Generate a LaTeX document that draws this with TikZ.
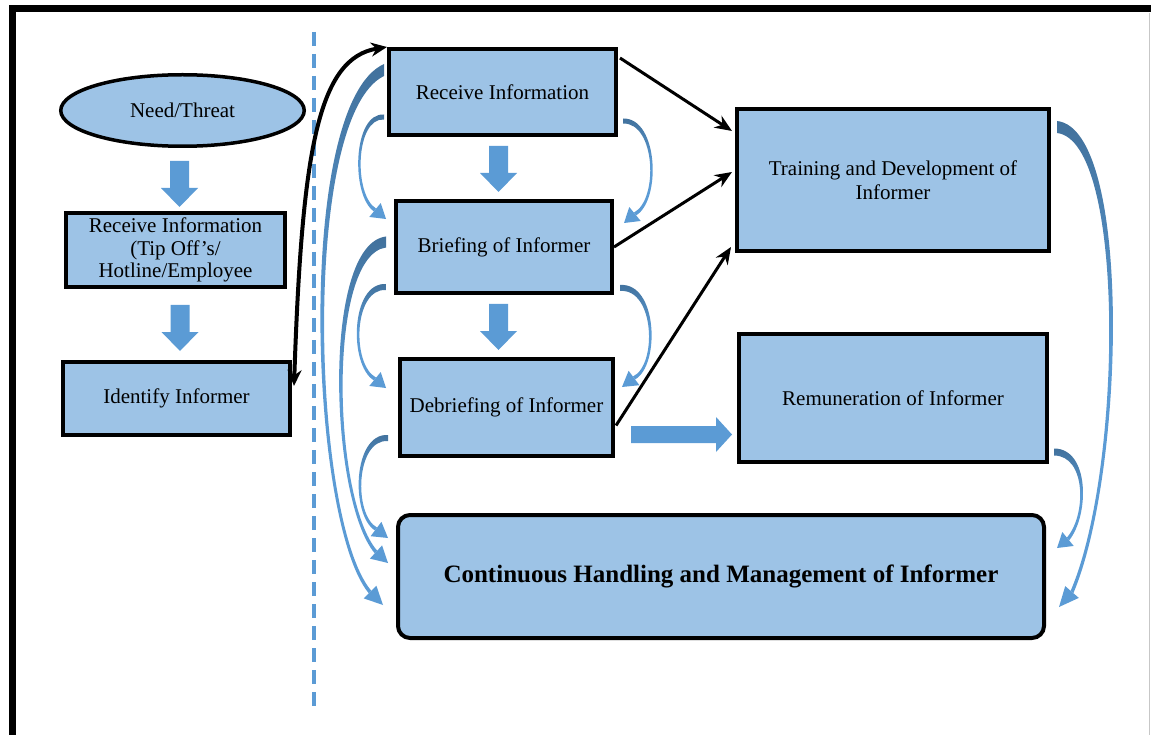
\documentclass[tikz,border=0pt]{standalone}
\usepackage{fontspec}
\setmainfont{Liberation Serif}
\usetikzlibrary{arrows.meta,calc,shapes.geometric}
\definecolor{boxfill}{HTML}{9DC3E6}
\definecolor{blockblue}{HTML}{5B9BD5}
\definecolor{banddark}{HTML}{41719C}
\tikzset{
  box/.style={draw=black, fill=boxfill, line width=4pt, inner sep=0pt, align=center,
    font=\fontsize{21}{22.5}\selectfont},
  link/.style={draw=black, line width=3pt, -{Stealth[length=17pt,width=14pt]}},
  blockarrow/.style={fill=blockblue},
  bandshade/.style={top color=banddark, bottom color=blockblue, middle color=blockblue},
}
% tapered curved arrow
% #1 start, #2 tip, #3 ctrl1 (rel. start), #4 ctrl2 (rel. tip),
% #5,#6 head base offset from tip, #7 half width at start, #8 side (-1 bulges left, 1 right)
\newcommand{\curvedband}[8]{%
  \pgfmathsetmacro\cbl{sqrt((#5)*(#5)+(#6)*(#6))}%
  \pgfmathsetmacro\cbpx{-(#6)/\cbl*(#8)}%
  \pgfmathsetmacro\cbpy{(#5)/\cbl*(#8)}%
  \path (#1) coordinate (cbA) (#2) coordinate (cbT);
  \path ($(cbA)+(#3)$) coordinate (cbP) ($(cbT)+(#4)$) coordinate (cbQ)
        ($(cbT)+(#5,#6)$) coordinate (cbH);
  \path[bandshade]
    ($(cbA)+(0,-#7)$) .. controls ($(cbP)+({0.5*(#8)*(#7)},-#7)$) and ($(cbQ)+({1.5*(#8)},0)$)
      .. ($(cbH)+({1.8*\cbpx},{1.8*\cbpy})$)
    -- ($(cbH)+({-1.8*\cbpx},{-1.8*\cbpy})$)
      .. controls ($(cbQ)+({-1.5*(#8)},0)$) and ($(cbP)+({-0.5*(#8)*(#7)},#7)$) .. ($(cbA)+(0,#7)$)
    -- cycle;
  \fill[blockblue] ($(cbH)+({9*\cbpx},{9*\cbpy})$) -- (cbT)
    -- ($(cbH)+({-9*\cbpx},{-9*\cbpy})$) -- cycle;
}
\begin{document}
\begin{tikzpicture}[x=1pt,y=-1pt]
\useasboundingbox (0,0) rectangle (1151,735);

% page frame
\draw[line width=7pt, line join=miter] (12,735) -- (12,9) -- (1151,9);
\draw[black!22, line width=1pt] (1149,13) -- (1149,735);

% separator
\draw[blockblue, line width=3.5pt, dash pattern=on 14pt off 8pt] (314,32) -- (314,708);

% left column
\node[box, ellipse, line width=3.5pt, minimum width=243.5pt, minimum height=71.5pt]
  (need) at (182.5,110.5) {Need/Threat};
\node[box, minimum width=219pt, minimum height=74pt] (tip) at (175.5,250)
  {Receive Information\\(Tip Off’s/\\Hotline/Employee};
\node[box, minimum width=227pt, minimum height=73pt] (id) at (176.5,398.5) {Identify Informer};

% centre column
\node[box, minimum width=227pt, minimum height=86pt] (ri) at (502.5,92) {Receive Information};
\node[box, minimum width=216pt, minimum height=92pt] (bi) at (504,247) {Briefing of Informer};
\node[box, minimum width=213pt, minimum height=97pt] (di) at (506.5,407.5) {Debriefing of Informer};

% right column
\node[box, minimum width=312pt, minimum height=142pt] (tr) at (893,180)
  {Training and Development of\\[1.5pt]Informer};
\node[box, minimum width=308pt, minimum height=128pt] (rem) at (893,398) {Remuneration of Informer};

\node[box, rounded corners=12pt, minimum width=646pt, minimum height=123pt,
  font=\bfseries\fontsize{25}{28}\selectfont] (cont) at (721,576.5)
  {Continuous Handling and Management of Informer};

% block arrows
\foreach \bx/\by in {179.5/161, 180/305, 498.5/146, 498.5/304}{
  \begin{scope}[shift={(\bx,\by)}]
    \fill[blockarrow] (-9.5,0) -- (9.5,0) -- (9.5,27) -- (18.5,27) -- (0,46)
      -- (-18.5,27) -- (-9.5,27) -- cycle;
  \end{scope}
}
\begin{scope}[shift={(631,434.5)}]
  \fill[blockarrow] (0,-8.5) -- (85,-8.5) -- (85,-17.5) -- (101,0) -- (85,17.5)
    -- (85,8.5) -- (0,8.5) -- cycle;
\end{scope}

% straight connectors to training
\draw[link] ($(ri.north east)+(2,11)$) -- ($(tr.north west)+(-3,24)$);
\draw[link] (bi.east) -- ($(tr.west)+(-3,-8)$);
\draw[link] ($(di.east)+(1,18)$) -- ($(tr.south west)+(-4,-6)$);

% identify <-> receive information
\draw[line width=4pt, {Stealth[length=16pt,width=14pt]}-{Stealth[length=16pt,width=14pt]}]
  ($(id.north east)+(2,26)$) .. controls +(8,-236) and +(-69,11) .. (ri.north west);

% curved bands on the left
\curvedband{$(ri.west)+(-3,-22)$}{$(cont.west)+(-13,28.5)$}{-86,40}{-73,-85}{-13}{-13}{6}{-1}
\curvedband{$(ri.west)+(-3,25)$}{$(bi.west)+(-8,-28)$}{-30,-2}{-34,-24}{-11}{-9}{2.5}{-1}
\curvedband{$(bi.west)+(-8,-5)$}{$(cont.west)+(-8,-13.5)$}{-62,8}{-57,-63}{-12}{-11}{5.5}{-1}
\curvedband{$(bi.west)+(-8,40)$}{$(di.west)+(-12,-19.5)$}{-34,-2}{-36,-23}{-11}{-9}{3}{-1}
\curvedband{$(di.west)+(-10,30.5)$}{$(cont.west)+(-8,-38.5)$}{-34,-2}{-36,-23}{-12}{-9}{3}{-1}

% curved bands on the right
\curvedband{$(ri.east)+(5,29)$}{$(bi.east)+(10,-24)$}{34,-1}{36,-23}{11}{-9}{2.5}{1}
\curvedband{$(bi.east)+(6,41)$}{$(di.east)+(7,-20.5)$}{36,-3}{37,-22}{12}{-9}{3}{1}
\curvedband{$(tr.east)+(6,-53)$}{$(cont.east)+(13,30.5)$}{72,8}{65,-137}{13}{-15}{6}{1}
\curvedband{$(rem.east)+(5,54)$}{$(cont.east)+(11,-28.5)$}{34,0}{31,-33}{11}{-9}{3.5}{1}
\end{tikzpicture}
\end{document}
